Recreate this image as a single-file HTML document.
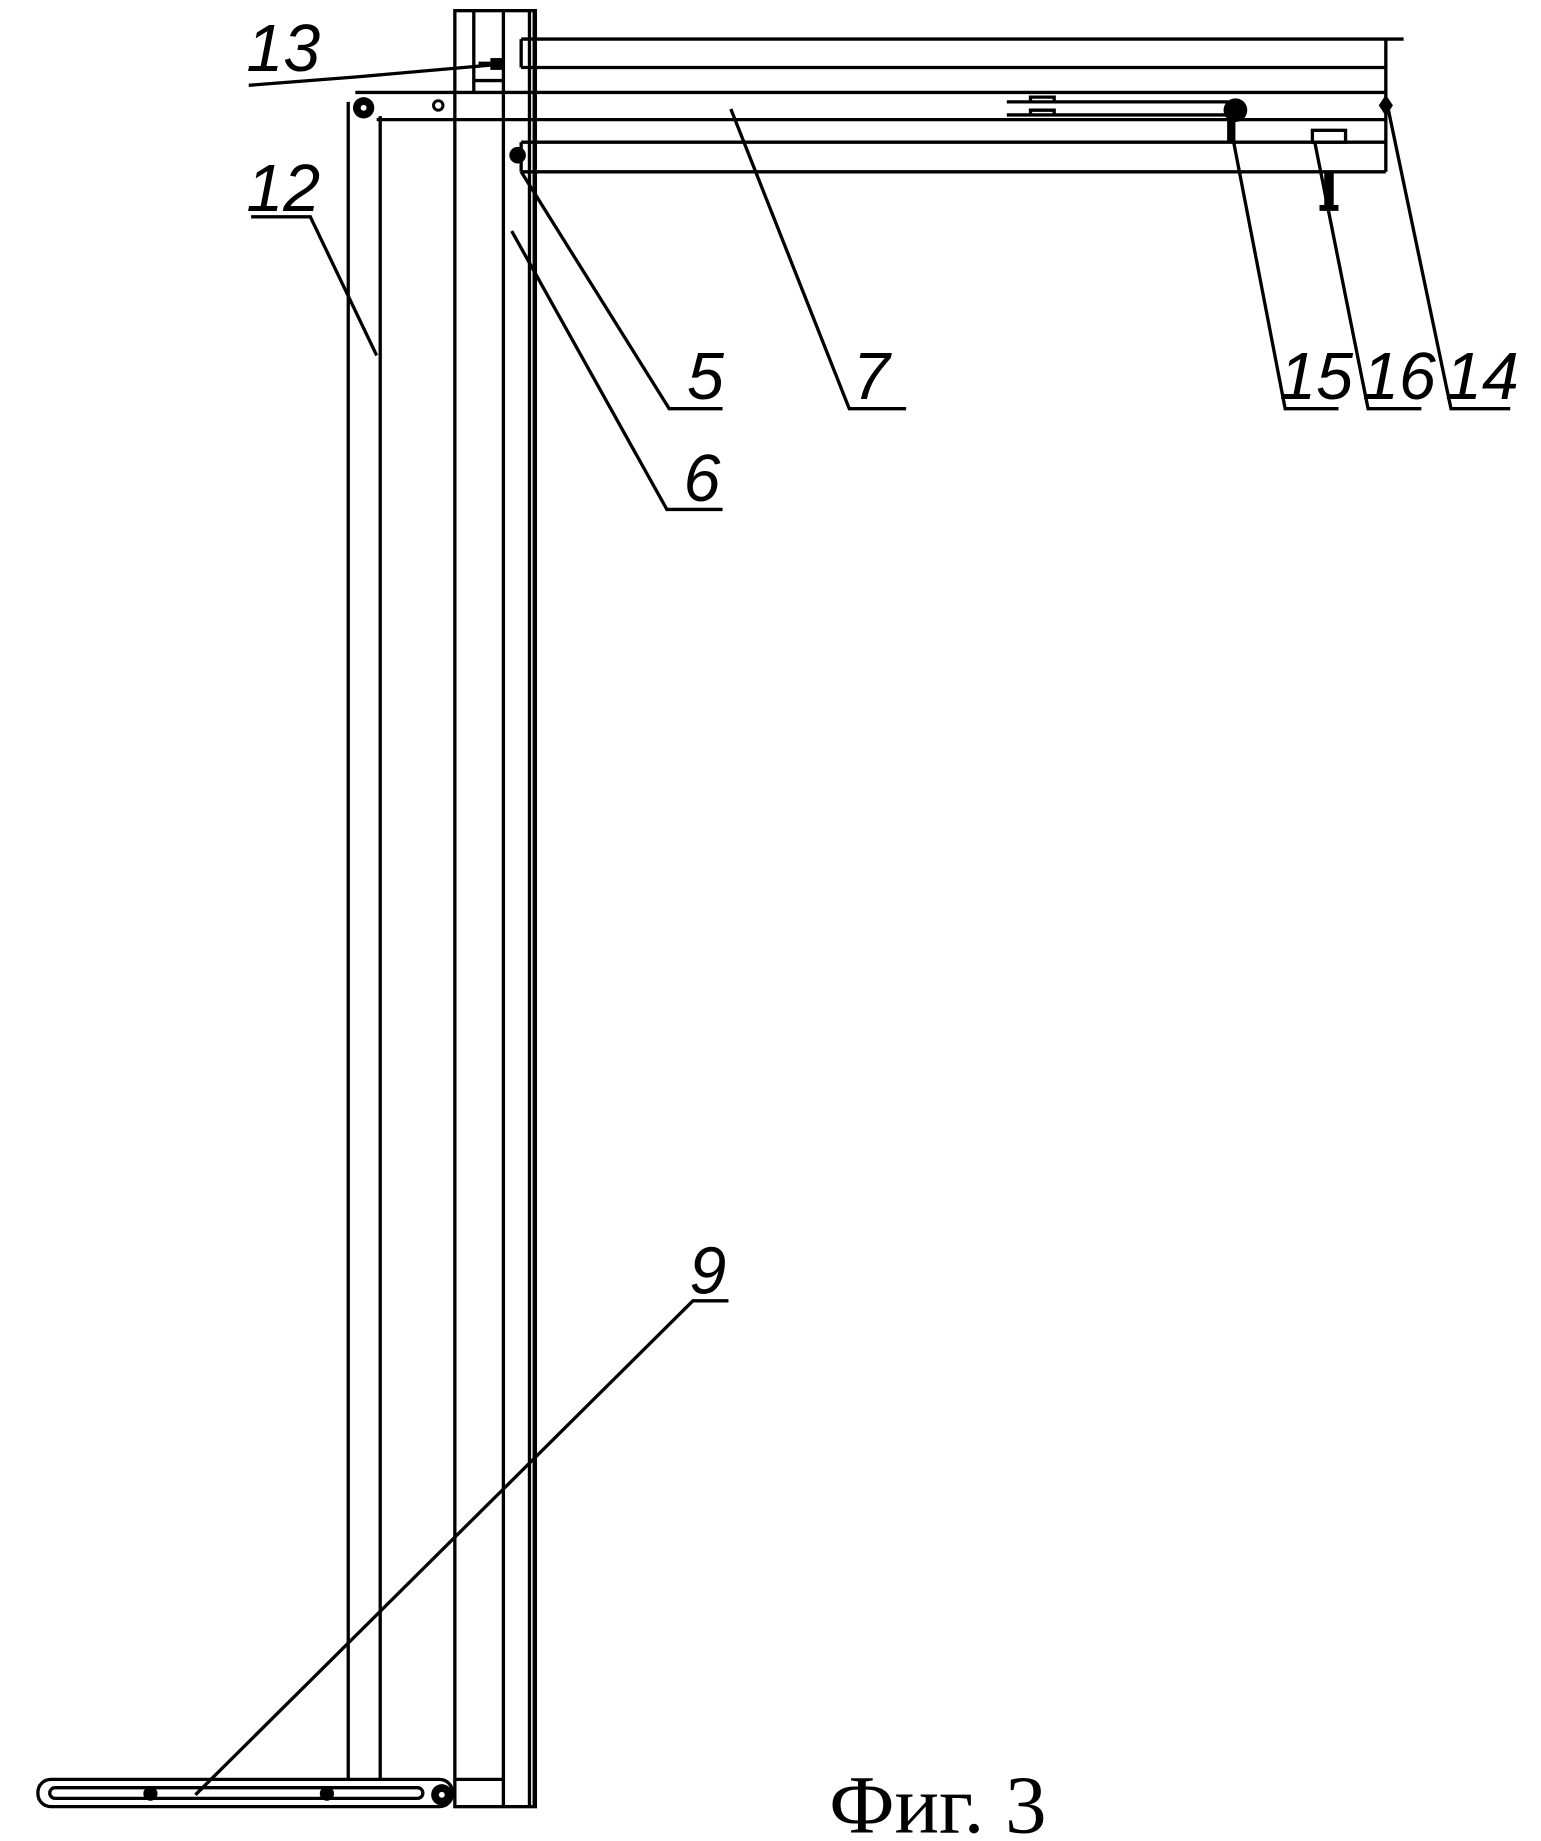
<!DOCTYPE html>
<html><head><meta charset="utf-8"><style>
html,body{margin:0;padding:0;background:#fff;width:1541px;height:1841px;overflow:hidden}
svg{display:block}
.n{font-family:"Liberation Sans",sans-serif;font-style:italic;font-size:56px;fill:#000}
</style></head><body>
<svg width="1541" height="1841" viewBox="0 0 1301 1554" preserveAspectRatio="none" xmlns="http://www.w3.org/2000/svg">
<g fill="none" stroke="#000" stroke-width="2.8">
<rect x="384" y="9" width="68" height="1516"/>
<line x1="400" y1="9" x2="400" y2="78"/>
<line x1="425" y1="9" x2="425" y2="1525"/>
<line x1="447" y1="9" x2="447" y2="1525"/>
<line x1="451" y1="9" x2="451" y2="1525"/>
<line x1="400" y1="68" x2="425" y2="68"/>
<line x1="384" y1="1502" x2="425" y2="1502"/>
<path d="M440 33 H1185 M440 57 H1170 M440 33 V57 M1170 33 V145"/>
<path d="M300 78 H1170 M318 101 H1170"/>
<path d="M850 86 H1040 M850 97 H1040 M870 86 V82 H890 V86 M870 97 V93 H890 V97"/>
<path d="M440 120 H1170 M440 145 H1170 M440 120 V145"/>
<line x1="294" y1="86" x2="294" y2="1502"/>
<line x1="321" y1="98" x2="321" y2="1502"/>
<rect x="1108" y="110" width="28" height="10"/>
<rect x="32" y="1502" width="350" height="23" rx="11"/>
<rect x="42" y="1509" width="315" height="9" rx="4.5"/>
<path d="M210 72 L300 65 L425 54"/>
<path d="M212 183 H262 L318 300"/>
<path d="M610 345 H565 L440 145"/>
<path d="M610 430 H563 L432 195"/>
<path d="M765 345 H717 L617 92"/>
<path d="M1130 345 H1085 L1040 112"/>
<path d="M1200 345 H1155 L1110 120"/>
<path d="M1275 345 H1225 L1172 92"/>
<path d="M615 1098 H585 L165 1515"/>
</g>
<g fill="#000" stroke="none">
<circle cx="307" cy="91" r="9"/>
<circle cx="437" cy="131" r="7"/>
<circle cx="1043" cy="93" r="10"/>
<path d="M1170 80 L1176 89 L1170 98 L1164 89Z"/>
<rect x="1118" y="145" width="8" height="30"/>
<rect x="1114" y="173" width="16" height="5"/>
<rect x="1036" y="100" width="7" height="20"/>
<rect x="414" y="49" width="12" height="10"/>
<rect x="404" y="52" width="10" height="3"/>
<circle cx="127" cy="1514" r="6"/>
<circle cx="276" cy="1514" r="6"/>
<circle cx="373" cy="1515" r="9"/>
</g>
<circle cx="307" cy="91" r="2.5" fill="#fff"/>
<circle cx="373" cy="1515" r="2.5" fill="#fff"/>
<circle cx="370" cy="89" r="4" fill="none" stroke="#000" stroke-width="2.5"/>
<g class="n">
<text x="208" y="60">13</text>
<text x="208" y="178">12</text>
<text x="580" y="337">5</text>
<text x="577" y="423">6</text>
<text x="720" y="337">7</text>
<text x="1080" y="337">15</text>
<text x="1150" y="337">16</text>
<text x="1220" y="337">14</text>
<text x="582" y="1092">9</text>
</g>
<text x="700" y="1547" style="font-family:'Liberation Serif',serif;font-size:70px" fill="#000">Фиг. 3</text>
</svg>
</body></html>
